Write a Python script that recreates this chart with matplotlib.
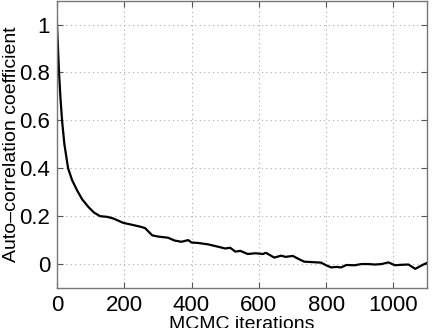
import matplotlib
matplotlib.use("Agg")
import matplotlib.pyplot as plt

plt.rcParams['font.family'] = ['Liberation Sans', 'DejaVu Sans']

iterations = [0, 3, 6, 10, 15, 22, 33, 45, 60, 75, 93, 110, 128, 150, 168, 197, 220, 248, 262,
              283, 300, 330, 350, 370, 390, 400, 420, 450, 480, 500, 515, 530, 545, 567, 590,
              612, 621, 646, 666, 680, 701, 720, 735, 760, 785, 800, 815, 830, 845, 860, 885,
              905, 925, 945, 965, 985, 1005, 1025, 1045, 1065, 1085, 1100]
acf = [1.0, 0.90, 0.80, 0.70, 0.60, 0.50, 0.40, 0.35, 0.307, 0.27, 0.239, 0.215, 0.20, 0.197,
       0.19, 0.172, 0.165, 0.156, 0.15, 0.12, 0.115, 0.11, 0.098, 0.093, 0.10, 0.09, 0.088,
       0.082, 0.072, 0.065, 0.068, 0.052, 0.055, 0.042, 0.045, 0.042, 0.047, 0.027, 0.035,
       0.030, 0.034, 0.020, 0.010, 0.008, 0.006, -0.005, -0.014, -0.012, -0.014, -0.004,
       -0.005, 0.0, 0.0, -0.002, 0.0, 0.007, -0.005, -0.003, -0.002, -0.02, -0.005, 0.005]

xticks = [0, 200, 400, 600, 800, 1000]
yticks = [0, 0.2, 0.4, 0.6, 0.8, 1]
yticklabels = ['0', '0.2', '0.4', '0.6', '0.8', '1']

fig = plt.figure(figsize=(4.32, 3.28), dpi=100)
ax = fig.add_axes([57/432, 1 - 288/328, (427-57)/432, 288/328 - 0.002])
ax.plot(iterations, acf, color='black', linewidth=1.6)
ax.set_xlim(0, 1100)
ax.set_ylim(-0.1, 1.1)
ax.set_xticks(xticks)
ax.set_yticks(yticks)
ax.set_yticklabels(yticklabels)
ax.tick_params(direction='in', top=True, right=True, labelsize=16, length=4,
               color='#555555', pad=5)
for s in ax.spines.values():
    s.set_color('#777777')
    s.set_linewidth(1.0)
ax.grid(True, linestyle=(0, (1, 3)), color='#aaaaaa', linewidth=0.8)
ax.set_xlabel('MCMC iterations', fontsize=14)
ax.xaxis.set_label_coords(0.5, -0.096)
ax.xaxis.label.set_va('top')
ax.set_ylabel('Auto\u2013correlation coefficient', fontsize=14)
ax.yaxis.label.set_va('center')
ax.yaxis.set_label_coords(-0.124, 0.5)
fig.savefig('out.png', dpi=100)
